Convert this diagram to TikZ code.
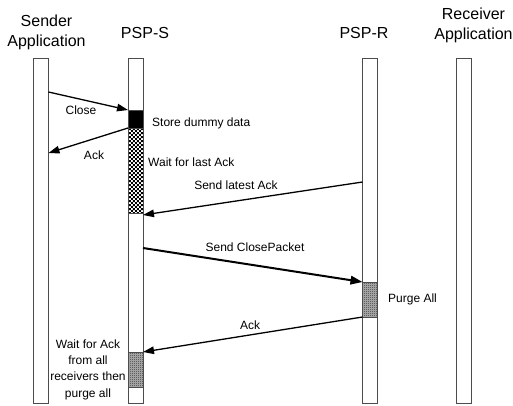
\documentclass[tikz,border=0pt]{standalone}
\usepackage{fontspec}
\setmainfont{Liberation Sans}
\usetikzlibrary{arrows.meta,patterns,calc}

% checkerboard fills for the activation boxes
\pgfdeclarepatternformonly{coarsechecker}{\pgfpointorigin}{\pgfpoint{4.4pt}{4.4pt}}{\pgfpoint{4.4pt}{4.4pt}}{%
  \pgfpathrectangle{\pgfpointorigin}{\pgfpoint{2.2pt}{2.2pt}}%
  \pgfpathrectangle{\pgfpoint{2.2pt}{2.2pt}}{\pgfpoint{2.2pt}{2.2pt}}%
  \pgfusepath{fill}}
\pgfdeclarepatternformonly{finechecker}{\pgfpointorigin}{\pgfpoint{2pt}{2pt}}{\pgfpoint{2pt}{2pt}}{%
  \pgfpathrectangle{\pgfpointorigin}{\pgfpoint{1pt}{1pt}}%
  \pgfpathrectangle{\pgfpoint{1pt}{1pt}}{\pgfpoint{1pt}{1pt}}%
  \pgfusepath{fill}}

\begin{document}
\begin{tikzpicture}[x=1pt,y=-1pt,
  lifeline/.style={draw=black!70,line width=0.9pt,fill=white,anchor=north west,
    minimum width=15pt,minimum height=345pt,inner sep=0pt,outer sep=0pt},
  actbox/.style={draw=black!70,line width=0.7pt,anchor=north west,
    minimum width=15pt,inner sep=0pt,outer sep=0pt},
  greybox/.style={actbox,preaction={fill=black!30},pattern=finechecker,pattern color=black!80},
  head/.style={font=\fontsize{16}{20}\selectfont,align=center,inner sep=0pt},
  lbl/.style={font=\fontsize{12}{16.3}\selectfont,inner sep=0pt},
  msg/.style={line width=1.3pt,-{Triangle[length=11pt,width=7.5pt]}},
  bigmsg/.style={line width=2pt,-{Triangle[length=12pt,width=8.5pt]}}]

\path[use as bounding box] (0,0) rectangle (513,405);

% headers
\node[head] (hsa) at (46.5,32) {Sender\\Application};
\node[head] (hps) at (145,33) {PSP-S};
\node[head] (hpr) at (364,33) {PSP-R};
\node[head] (hra) at (473.5,25) {Receiver\\Application};

% lifelines
\node[lifeline] (sa) at (33.5,58) {};
\node[lifeline] (ps) at (128,58) {};
\node[lifeline] (pr) at (362.5,58) {};
\node[lifeline] (ra) at (456.5,58) {};

% activation boxes
\node[actbox,fill=black,minimum height=18pt] (store) at (128,110) {};
\node[actbox,pattern=coarsechecker,minimum height=85pt] (wait) at (128,128) {};
\node[greybox,minimum height=35pt] (purge) at (362.5,282) {};
\node[greybox,minimum height=35pt] (final) at (128,352) {};

% message end points
\coordinate (c1) at ($(sa.north east)+(0,34)$);
\coordinate (a1) at ($(sa.north east)+(0,95)$);
\coordinate (l1) at ($(pr.north west)+(0,124)$);
\coordinate (l2) at ($(ps.north east)+(0,157)$);
\coordinate (s1) at ($(ps.north east)+(0,190)$);
\coordinate (k2) at ($(final.north east)$);

% messages
\draw[msg] (c1) -- (store.north west);
\draw[msg] (wait.north west) -- (a1);
\draw[msg] (l1) -- (l2);
\draw[bigmsg] (s1) -- (purge.north west);
\draw[msg] (purge.south west) -- (k2);

% labels
\node[lbl] (tclose) at (81,110) {Close};
\node[lbl] (tack1) at (94,155) {Ack};
\node[lbl,anchor=west] (tstore) at (152,123) {Store dummy data};
\node[lbl,anchor=west] (twait) at (148,162) {Wait for last Ack};
\node[lbl] (tlatest) at (236,185) {Send latest Ack};
\node[lbl] (tclosep) at (255,247) {Send ClosePacket};
\node[lbl,anchor=west] (tpurge) at (388,299) {Purge All};
\node[lbl] (tack2) at (250,325) {Ack};
\node[lbl,align=center] (tfinal) at (88,369.5) {Wait for Ack\\from all\\receivers then\\purge all};
\end{tikzpicture}
\end{document}
